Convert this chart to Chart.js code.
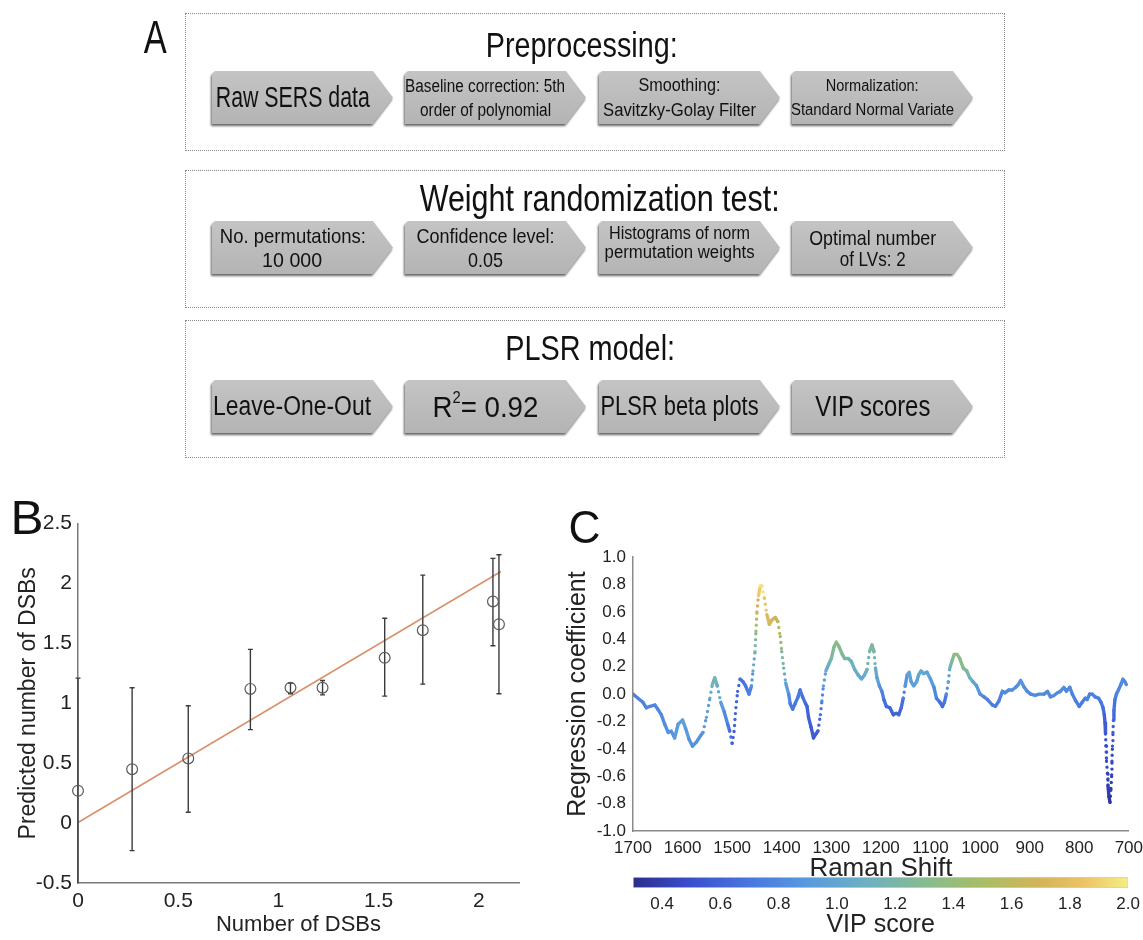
<!DOCTYPE html>
<html><head><meta charset="utf-8">
<script src="https://cdn.jsdelivr.net/npm/chart.js@4.4.1/dist/chart.umd.min.js"></script>
<style>
html,body{margin:0;padding:0;background:#fff;}
body{width:1143px;height:940px;position:relative;overflow:hidden;font-family:"Liberation Sans",Arial,sans-serif;color:#111;}
.lbl{position:absolute;line-height:1;white-space:nowrap;}
.box{position:absolute;left:185px;width:820px;border:1px dotted #8a8a8a;box-sizing:border-box;}
.title{position:absolute;width:0;display:flex;justify-content:center;line-height:1;}
.arrow{position:absolute;width:181px;height:53px;filter:drop-shadow(-1px 2px 1px rgba(0,0,0,.6));}
.shape{position:absolute;left:0;top:0;right:0;bottom:0;background:linear-gradient(#c4c4c4,#b4b4b4);clip-path:polygon(0 3px,3px 0,161px 0,181px 50%,161px 100%,0 100%);}
.txt{position:absolute;left:0;top:0;width:161px;height:100%;display:flex;flex-direction:column;align-items:center;justify-content:center;color:#111;}
.fit{display:inline-block;white-space:nowrap;transform-origin:50% 50%;}
canvas{position:absolute;}
</style></head>
<body>
<!-- Panel A -->
<div class="lbl" style="left:140px;top:14px;font-size:46px;"><span class="fit" data-w="23">A</span></div>

<div class="box" style="top:13px;height:138px;"></div>
<div class="title" style="left:582px;top:27px;"><span class="fit" data-w="192" style="font-size:35px">Preprocessing:</span></div>
<div class="arrow" style="left:212px;top:71px;"><div class="shape"></div><div class="txt"><span class="fit" data-w="154" style="font-size:29px">Raw SERS data</span></div></div>
<div class="arrow" style="left:405px;top:71px;"><div class="shape"></div><div class="txt" style="line-height:24px"><span class="fit" data-w="160" style="font-size:18px">Baseline correction: 5th</span><span class="fit" data-w="131" style="font-size:18px">order of polynomial</span></div></div>
<div class="arrow" style="left:599px;top:71px;"><div class="shape"></div><div class="txt" style="line-height:25px"><span class="fit" data-w="82" style="font-size:18px">Smoothing:</span><span class="fit" data-w="153" style="font-size:18px">Savitzky-Golay Filter</span></div></div>
<div class="arrow" style="left:792px;top:71px;"><div class="shape"></div><div class="txt" style="line-height:24px"><span class="fit" data-w="93" style="font-size:16px">Normalization:</span><span class="fit" data-w="163" style="font-size:16px">Standard Normal Variate</span></div></div>

<div class="box" style="top:170px;height:138px;"></div>
<div class="title" style="left:600px;top:180px;"><span class="fit" data-w="360" style="font-size:37px">Weight randomization test:</span></div>
<div class="arrow" style="left:212px;top:221px;"><div class="shape"></div><div class="txt" style="line-height:24px"><span class="fit" data-w="146" style="font-size:21px">No. permutations:</span><span class="fit" data-w="60" style="font-size:21px">10 000</span></div></div>
<div class="arrow" style="left:405px;top:221px;"><div class="shape"></div><div class="txt" style="line-height:24px"><span class="fit" data-w="138" style="font-size:21px">Confidence level:</span><span class="fit" data-w="35" style="font-size:21px">0.05</span></div></div>
<div class="arrow" style="left:599px;top:221px;"><div class="shape"></div><div class="txt" style="line-height:19px;padding-bottom:10px;box-sizing:border-box"><span class="fit" data-w="141" style="font-size:18px">Histograms of norm</span><span class="fit" data-w="150" style="font-size:18px">permutation weights</span></div></div>
<div class="arrow" style="left:792px;top:221px;"><div class="shape"></div><div class="txt" style="line-height:21px"><span class="fit" data-w="127" style="font-size:21px">Optimal number</span><span class="fit" data-w="66" style="font-size:21px">of LVs: 2</span></div></div>

<div class="box" style="top:320px;height:138px;"></div>
<div class="title" style="left:590px;top:330px;"><span class="fit" data-w="170" style="font-size:35px">PLSR model:</span></div>
<div class="arrow" style="left:212px;top:380px;"><div class="shape"></div><div class="txt"><span class="fit" data-w="158" style="font-size:27px">Leave-One-Out</span></div></div>
<div class="arrow" style="left:405px;top:380px;"><div class="shape"></div><div class="txt"><span class="fit" data-w="106" style="font-size:30px">R<sup style="font-size:16px;vertical-align:14px;line-height:0">2</sup>= 0.92</span></div></div>
<div class="arrow" style="left:599px;top:380px;"><div class="shape"></div><div class="txt"><span class="fit" data-w="158" style="font-size:27px">PLSR beta plots</span></div></div>
<div class="arrow" style="left:792px;top:380px;"><div class="shape"></div><div class="txt"><span class="fit" data-w="115" style="font-size:29px">VIP scores</span></div></div>

<!-- Panel labels -->
<div class="lbl" style="left:11px;top:494px;font-size:48px;"><span class="fit" data-w="33">B</span></div>
<div class="lbl" style="left:568px;top:504px;font-size:46px;"><span class="fit" data-w="32">C</span></div>

<canvas id="cB" width="530" height="435" style="left:0;top:505px;"></canvas>
<canvas id="cC" width="590" height="345" style="left:560px;top:540px;"></canvas>
<canvas id="cV" width="586" height="70" style="left:560px;top:870px;"></canvas>

<script>
// ---------- Panel B data ----------
const dsbActual    = [0, 0.27, 0.55, 0.86, 1.06, 1.22, 1.53, 1.72, 2.07, 2.10];
const dsbPredicted = [0.27, 0.45, 0.54, 1.12, 1.13, 1.13, 1.38, 1.61, 1.85, 1.66];
const errLow       = [-0.67, -0.23, 0.09, 0.78, 1.08, 1.07, 1.06, 1.16, 1.48, 1.08];
const errHigh      = [1.21, 1.13, 0.98, 1.45, 1.17, 1.19, 1.71, 2.07, 2.21, 2.24];
const fitLineX     = [0, 2.11];
const fitLineY     = [0.005, 2.10];
const bXTicks      = [0, 0.5, 1, 1.5, 2];
const bYTicks      = [-0.5, 0, 0.5, 1, 1.5, 2, 2.5];

// ---------- Panel C data ----------
const ramanShift = [1700,1690,1680,1673,1666,1656,1650,1643,1636,1629,
 1623,1616,1609,1600,1594,1587,1580,1572,1565,1559,
 1552,1545,1540,1535,1530,1523,1516,1509,1505,1500,
 1496,1493,1489,1484,1478,1473,1466,1461,1458,1454,
 1452,1450,1447,1443,1440,1435,1430,1425,1420,1413,
 1408,1403,1400,1396,1392,1386,1383,1378,1373,1367,
 1363,1358,1352,1349,1346,1341,1336,1331,1327,1322,
 1319,1316,1311,1305,1300,1295,1290,1285,1278,1273,
 1266,1260,1253,1246,1239,1233,1228,1223,1218,1214,
 1211,1208,1203,1198,1194,1189,1182,1175,1169,1164,
 1159,1155,1151,1147,1143,1139,1134,1128,1124,1119,
 1114,1107,1100,1093,1088,1081,1076,1072,1068,1064,
 1061,1056,1052,1046,1041,1034,1027,1021,1014,1007,
 1000,992,985,975,969,962,955,950,942,935,
 928,923,918,911,905,898,889,881,871,864,
 858,851,844,838,831,826,819,814,807,800,
 794,788,784,779,774,768,761,756,752,749.5,
 748,747,746,745,743,742,740,738,736,734.5,
 734,733,732,731,730,728,725,721,716,712,
 708,705];
const regCoef = [0.00,-0.03,-0.06,-0.10,-0.09,-0.08,-0.11,-0.15,-0.22,-0.28,
 -0.27,-0.32,-0.22,-0.19,-0.25,-0.33,-0.38,-0.35,-0.31,-0.28,
 -0.17,-0.03,0.07,0.12,0.06,-0.06,-0.13,-0.22,-0.27,-0.36,
 -0.27,-0.12,0.02,0.11,0.09,0.06,0.00,0.06,0.17,0.31,
 0.46,0.60,0.72,0.79,0.79,0.70,0.58,0.51,0.54,0.56,
 0.53,0.42,0.31,0.19,0.08,0.00,-0.07,-0.11,-0.07,-0.02,
 0.03,-0.02,-0.07,-0.09,-0.17,-0.24,-0.32,-0.29,-0.27,-0.15,
 -0.05,0.06,0.17,0.22,0.26,0.34,0.38,0.35,0.29,0.26,
 0.26,0.24,0.18,0.14,0.11,0.14,0.18,0.31,0.36,0.31,
 0.19,0.12,0.06,0.02,-0.04,-0.09,-0.10,-0.15,-0.14,-0.15,
 -0.10,-0.03,0.06,0.14,0.16,0.09,0.06,0.09,0.14,0.17,
 0.15,0.16,0.11,0.05,-0.03,-0.06,-0.09,-0.06,0.00,0.09,
 0.19,0.25,0.29,0.29,0.26,0.19,0.17,0.12,0.09,0.06,
 0.00,-0.02,-0.04,-0.08,-0.09,-0.05,0.02,0.01,0.03,0.03,
 0.05,0.07,0.10,0.05,0.02,0.00,-0.01,0.00,0.00,0.02,
 -0.02,-0.01,0.01,0.02,0.05,0.02,0.05,0.00,-0.05,-0.09,
 -0.06,-0.03,-0.04,0.00,0.00,-0.02,-0.03,-0.06,-0.10,-0.15,
 -0.21,-0.29,-0.38,-0.49,-0.58,-0.67,-0.75,-0.79,-0.69,-0.59,
 -0.49,-0.38,-0.28,-0.19,-0.12,-0.04,0.00,0.03,0.07,0.11,
 0.09,0.07];
const vipScore = [0.75,0.75,0.75,0.78,0.78,0.78,0.80,0.80,0.82,0.85,
 0.85,0.85,0.95,0.98,0.92,0.88,0.85,0.85,0.85,0.85,
 0.90,1.00,1.10,1.20,1.10,0.95,0.85,0.75,0.70,0.60,
 0.60,0.60,0.60,0.65,0.70,0.70,0.72,0.80,0.95,1.15,
 1.35,1.60,1.80,1.95,2.00,1.90,1.80,1.72,1.72,1.70,
 1.65,1.50,1.30,1.15,1.00,0.85,0.75,0.70,0.70,0.72,
 0.72,0.70,0.65,0.62,0.60,0.57,0.55,0.55,0.58,0.65,
 0.75,0.85,1.00,1.10,1.20,1.30,1.35,1.30,1.25,1.20,
 1.20,1.15,1.10,1.05,1.00,1.05,1.10,1.20,1.25,1.20,
 1.10,1.00,0.90,0.80,0.70,0.65,0.62,0.60,0.60,0.60,
 0.62,0.70,0.80,0.95,1.00,0.95,0.90,0.95,1.00,1.05,
 1.00,1.00,0.95,0.85,0.75,0.70,0.65,0.65,0.75,0.90,
 1.10,1.25,1.35,1.38,1.35,1.30,1.25,1.15,1.05,0.95,
 0.85,0.80,0.78,0.75,0.72,0.75,0.80,0.80,0.82,0.82,
 0.85,0.85,0.88,0.85,0.82,0.80,0.80,0.80,0.80,0.82,
 0.80,0.80,0.80,0.80,0.82,0.80,0.82,0.78,0.75,0.72,
 0.72,0.75,0.75,0.78,0.78,0.76,0.75,0.72,0.68,0.62,
 0.58,0.55,0.52,0.48,0.45,0.42,0.38,0.35,0.38,0.42,
 0.45,0.50,0.55,0.60,0.65,0.70,0.75,0.78,0.80,0.82,
 0.80,0.80];
const cXTicks  = [1700,1600,1500,1400,1300,1200,1100,1000,900,800,700];
const cYTicks  = [-1.0,-0.8,-0.6,-0.4,-0.2,0.0,0.2,0.4,0.6,0.8,1.0];
const vipRange = [0.3, 2.0];
const vipTicks = [0.4,0.6,0.8,1.0,1.2,1.4,1.6,1.8,2.0];

// ---------- colour map (VIP) ----------
const cmapStops = [[0.3,'#2b2d8c'],[0.5,'#3a4fcf'],[0.7,'#4877df'],[0.9,'#5a9ade'],[1.1,'#6cb0c2'],
                   [1.3,'#86bb8f'],[1.5,'#a8be66'],[1.7,'#d4b45a'],[1.85,'#ecc464'],[2.0,'#f6ee84']];
function hex2rgb(h){return [parseInt(h.substr(1,2),16),parseInt(h.substr(3,2),16),parseInt(h.substr(5,2),16)];}
function vipColor(v){
  if (v <= cmapStops[0][0]) return cmapStops[0][1];
  for (let i=1;i<cmapStops.length;i++){
    if (v <= cmapStops[i][0]){
      const [v0,c0]=cmapStops[i-1],[v1,c1]=cmapStops[i];
      const t=(v-v0)/(v1-v0), a=hex2rgb(c0), b=hex2rgb(c1);
      return 'rgb('+a.map((x,k)=>Math.round(x+(b[k]-x)*t)).join(',')+')';
    }
  }
  return cmapStops[cmapStops.length-1][1];
}

// ---------- text fitting for panel A ----------
function fitAll(){
  document.querySelectorAll('.fit').forEach(el=>{
    el.style.transform='none';
    const w=el.getBoundingClientRect().width, t=+el.dataset.w;
    if (w>0 && t) el.style.transform='scaleX('+(t/w).toFixed(3)+')';
  });
}
fitAll();
if (document.fonts && document.fonts.ready) document.fonts.ready.then(fitAll);

const FF = '"Liberation Sans", Arial, sans-serif';
Chart.defaults.font.family = FF;
Chart.defaults.color = '#222';
const fmtB = v => String(Math.round(v*10)/10);

// ---------- Panel B chart ----------
const errData = [];
dsbActual.forEach((x,i)=>{ errData.push({x:x,y:errLow[i]},{x:x,y:errHigh[i]},{x:x,y:null}); });
new Chart(document.getElementById('cB'), {
  type:'scatter',
  data:{datasets:[
    {type:'line', data: fitLineX.map((x,i)=>({x:x,y:fitLineY[i]})), borderColor:'#d9926d', borderWidth:1.6, pointRadius:0, order:3},
    {type:'line', data: errData, borderColor:'#3a3a3a', borderWidth:1.4, pointStyle:'line', pointRadius:2.5,
     pointBorderColor:'#3a3a3a', pointBorderWidth:1.4, spanGaps:false, clip:{left:6,top:6,right:6,bottom:0}, order:2},
    {data: dsbActual.map((x,i)=>({x:x,y:dsbPredicted[i]})), pointStyle:'circle', pointRadius:5.4,
     backgroundColor:'rgba(0,0,0,0)', borderColor:'#5a5a5a', borderWidth:1.2, clip:false, order:1}
  ]},
  options:{
    responsive:false, animation:false, events:[],
    plugins:{legend:{display:false}, tooltip:{enabled:false}},
    layout:{padding:{top:18,right:11,left:0,bottom:0}},
    scales:{
      x:{type:'linear', min:0, max:2.2,
         grid:{display:false, drawTicks:false}, border:{display:true,color:'#7a7a7a',width:1.5},
         afterBuildTicks:s=>{s.ticks=bXTicks.map(v=>({value:v}));},
         afterFit:s=>{s.height=57;},
         ticks:{padding:6,color:'#222',font:{size:21},callback:fmtB,maxRotation:0,autoSkip:false},
         title:{display:true,text:'Number of DSBs',color:'#222',font:{size:22},padding:{top:0,bottom:2}}},
      y:{type:'linear', min:-0.5, max:2.5,
         grid:{display:false, drawTicks:false}, border:{display:true,color:'#7a7a7a',width:1.5},
         afterBuildTicks:s=>{s.ticks=bYTicks.map(v=>({value:v}));},
         afterFit:s=>{s.width=78;},
         ticks:{padding:6,color:'#222',font:{size:21},callback:fmtB,autoSkip:false},
         title:{display:true,text:'Predicted number of DSBs',color:'#222',font:{size:23},padding:{top:15,bottom:0}}}
    }
  }
});

// ---------- Panel C chart ----------
new Chart(document.getElementById('cC'), {
  type:'scatter',
  data:{datasets:[{
    data: ramanShift.map((x,i)=>({x:x,y:regCoef[i]})),
    showLine:true, pointRadius:0, borderWidth:3.4, borderCapStyle:'round', borderJoinStyle:'round',
    segment:{
      borderColor: c => vipColor((vipScore[c.p0DataIndex]+vipScore[c.p1DataIndex])/2),
      borderDash: c => { const dx=Math.abs(c.p1.x-c.p0.x), dy=Math.abs(c.p1.y-c.p0.y);
                         return (dy > 4*dx && dy > 12) ? [0,6] : undefined; }
    }
  }]},
  options:{
    responsive:false, animation:false, events:[],
    plugins:{legend:{display:false}, tooltip:{enabled:false}},
    layout:{padding:{top:15,right:8,left:0,bottom:0}},
    scales:{
      x:{type:'linear', reverse:true, min:700, max:1700,
         grid:{display:false, drawTicks:false}, border:{display:true,color:'#8a8a8a',width:1.5},
         afterBuildTicks:s=>{s.ticks=cXTicks.map(v=>({value:v}));},
         afterFit:s=>{s.height=54;},
         ticks:{padding:7,color:'#222',font:{size:17},callback:v=>String(v),maxRotation:0,autoSkip:false},
         title:{display:true,text:'Raman Shift',color:'#222',font:{size:26},padding:{top:0,bottom:1}}},
      y:{type:'linear', min:-1, max:1,
         grid:{display:false, drawTicks:false}, border:{display:true,color:'#8a8a8a',width:1.5},
         afterBuildTicks:s=>{s.ticks=cYTicks.map(v=>({value:v}));},
         afterFit:s=>{s.width=73;},
         ticks:{padding:7,color:'#222',font:{size:17},callback:v=>Number(v).toFixed(1),autoSkip:false},
         title:{display:true,text:'Regression coefficient',color:'#222',font:{size:25},padding:{top:3,bottom:0}}}
    }
  }
});

// ---------- Colour bar ----------
new Chart(document.getElementById('cV'), {
  type:'bar',
  data:{labels:['VIP'], datasets:[{
    data:[vipRange],
    backgroundColor: ctx => {
      const ch=ctx.chart, xs=ch.scales.x;
      if (!ch.chartArea || !xs) return '#888';
      const g=ch.ctx.createLinearGradient(xs.getPixelForValue(vipRange[0]),0,xs.getPixelForValue(vipRange[1]),0);
      cmapStops.forEach(([v,c])=>g.addColorStop((v-vipRange[0])/(vipRange[1]-vipRange[0]),c));
      return g;
    },
    borderColor:'#cfcfcf', borderWidth:1, borderSkipped:false, barPercentage:1, categoryPercentage:1
  }]},
  options:{
    indexAxis:'y', responsive:false, animation:false, events:[],
    plugins:{legend:{display:false}, tooltip:{enabled:false}},
    layout:{padding:{top:7,right:13,left:73,bottom:0}},
    scales:{
      x:{type:'linear', min:vipRange[0], max:vipRange[1],
         grid:{display:false, drawTicks:false}, border:{display:false},
         afterBuildTicks:s=>{s.ticks=vipTicks.map(v=>({value:v}));},
         afterFit:s=>{s.height=52;},
         ticks:{padding:6,color:'#222',font:{size:17},callback:v=>Number(v).toFixed(1),maxRotation:0,autoSkip:false},
         title:{display:true,text:'VIP score',color:'#222',font:{size:25},padding:{top:0,bottom:0}}},
      y:{display:false}
    }
  }
});
</script>
</body></html>
